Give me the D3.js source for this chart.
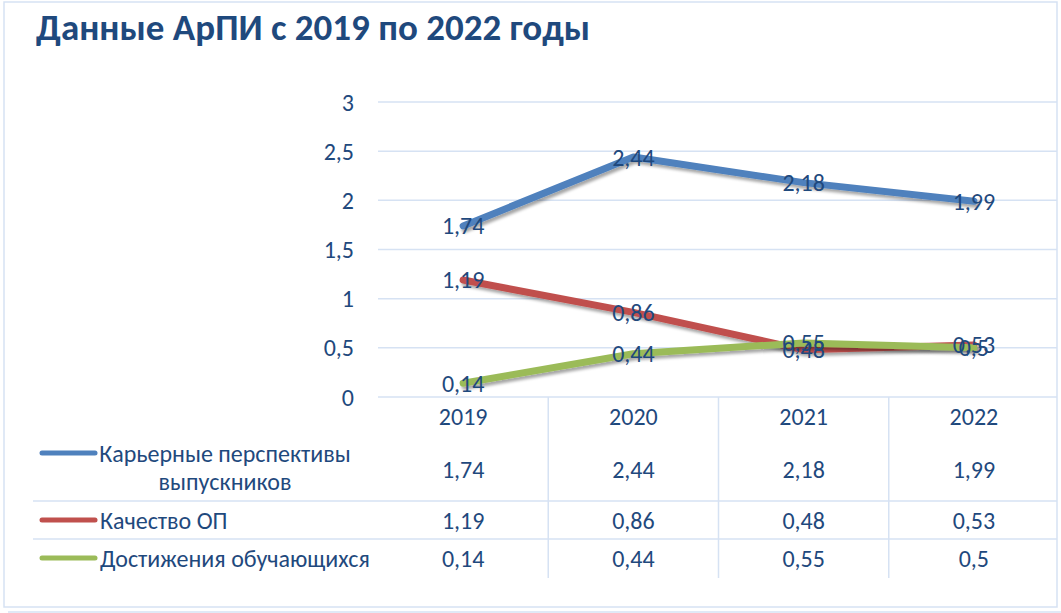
<!DOCTYPE html>
<html>
<head>
<meta charset="utf-8">
<script src="https://cdn.jsdelivr.net/npm/d3@7"></script>
<style>
  body { margin: 0; background: #fff; }
  svg text { font-family: Carlito, "Open Sans", sans-serif; fill: #1F497D; }
</style>
</head>
<body>
<svg id="chart"></svg>
<script>
// data
const years = ["2019", "2020", "2021", "2022"];
const seriesNames = ["Карьерные перспективы выпускников", "Качество ОП", "Достижения обучающихся"];
const career = [1.74, 2.44, 2.18, 1.99];
const quality = [1.19, 0.86, 0.48, 0.53];
const achievements = [0.14, 0.44, 0.55, 0.5];
const yTicks = [0, 0.5, 1, 1.5, 2, 2.5, 3];
const colors = ["#4F81BD", "#C0504D", "#9BBB59"];

const width = 1061, height = 613;
const fs = 24; // base font size
const svg = d3.select("#chart").attr("width", width).attr("height", height);

const fmt = v => String(v).replace(".", ",");

// shadow for lines
const defs = svg.append("defs");
defs.append("filter").attr("id", "shadow")
    .attr("x", "-10%").attr("y", "-30%").attr("width", "120%").attr("height", "160%")
  .append("feDropShadow")
    .attr("dx", 2).attr("dy", 3).attr("stdDeviation", 1.8)
    .attr("flood-color", "#000").attr("flood-opacity", 0.35);

// outer frame
svg.append("rect")
    .attr("x", 4).attr("y", 2).attr("width", 1053).attr("height", 605)
    .attr("fill", "none").attr("stroke", "#D6E2F3").attr("stroke-width", 1.5);
svg.append("line")
    .attr("x1", 8).attr("x2", 1061).attr("y1", 612).attr("y2", 612)
    .attr("stroke", "#D6E2F3").attr("stroke-width", 1.5);

// title
svg.append("text")
    .attr("x", 36).attr("y", 40)
    .attr("font-size", 37).attr("font-weight", "bold")
    .style("fill", "#1F497D")
    .text("Данные АрПИ с 2019 по 2022 годы");

// scales
const x = d3.scaleBand().domain(years).range([378, 1059]);
const y = d3.scaleLinear().domain([0, 3]).range([397, 102]);
const cx = d => x(d) + x.bandwidth() / 2;

// gridlines
svg.append("g").selectAll("line").data(yTicks).join("line")
    .attr("x1", 378).attr("x2", 1057)
    .attr("y1", d => y(d)).attr("y2", d => y(d))
    .attr("stroke", "#D6E2F3").attr("stroke-width", 1.5);

// y tick labels
svg.append("g").selectAll("text").data(yTicks).join("text")
    .attr("x", 354).attr("y", d => y(d))
    .attr("text-anchor", "end").attr("dominant-baseline", "central")
    .attr("font-size", fs)
    .text(d => fmt(d));

// table lines
const tableTop = 397, tableBottom = 578;
svg.append("g").selectAll("line").data(years.slice(1)).join("line")
    .attr("x1", d => x(d)).attr("x2", d => x(d))
    .attr("y1", tableTop).attr("y2", tableBottom)
    .attr("stroke", "#D6E2F3").attr("stroke-width", 1.5);
svg.append("g").selectAll("line").data([501, 539]).join("line")
    .attr("x1", 33).attr("x2", 1057)
    .attr("y1", d => d).attr("y2", d => d)
    .attr("stroke", "#D6E2F3").attr("stroke-width", 1.5);

// year header
svg.append("g").selectAll("text").data(years).join("text")
    .attr("x", d => cx(d)).attr("y", 416)
    .attr("text-anchor", "middle").attr("dominant-baseline", "central")
    .attr("font-size", fs)
    .text(d => d);

// table rows
const allSeries = [career, quality, achievements];
const rowY = [469, 520, 558];
allSeries.forEach((vals, i) => {
    const g = svg.append("g");
    const ly = i === 0 ? 453 : rowY[i];
    g.append("line")
        .attr("x1", 42).attr("x2", 95)
        .attr("y1", ly).attr("y2", ly)
        .attr("stroke", colors[i]).attr("stroke-width", 5).attr("stroke-linecap", "round");
    if (i === 0) {
        const t = g.append("text")
            .attr("text-anchor", "middle")
            .attr("font-size", fs);
        t.append("tspan").attr("x", 225).attr("y", 453).attr("dominant-baseline", "central").text("Карьерные перспективы");
        t.append("tspan").attr("x", 225).attr("y", 481).attr("dominant-baseline", "central").text("выпускников");
    } else {
        g.append("text")
            .attr("x", 100).attr("y", rowY[i])
            .attr("dominant-baseline", "central")
            .attr("font-size", fs)
            .text(seriesNames[i]);
    }
    g.selectAll("text.val").data(vals).join("text")
        .attr("class", "val")
        .attr("x", (d, j) => cx(years[j])).attr("y", rowY[i])
        .attr("text-anchor", "middle").attr("dominant-baseline", "central")
        .attr("font-size", fs)
        .text(d => fmt(d));
});

// lines
const line = d3.line()
    .x((d, j) => cx(years[j]))
    .y(d => y(d));

allSeries.forEach((vals, i) => {
    svg.append("path")
        .datum(vals)
        .attr("d", line)
        .attr("fill", "none")
        .attr("stroke", colors[i])
        .attr("stroke-width", 7)
        .attr("stroke-linecap", "round")
        .attr("stroke-linejoin", "round")
        .attr("filter", "url(#shadow)");
});

// data labels
allSeries.forEach((vals, i) => {
    svg.append("g").selectAll("text").data(vals).join("text")
        .attr("x", (d, j) => cx(years[j])).attr("y", d => y(d))
        .attr("text-anchor", "middle").attr("dominant-baseline", "central")
        .attr("font-size", fs)
        .text(d => fmt(d));
});
</script>
</body>
</html>
